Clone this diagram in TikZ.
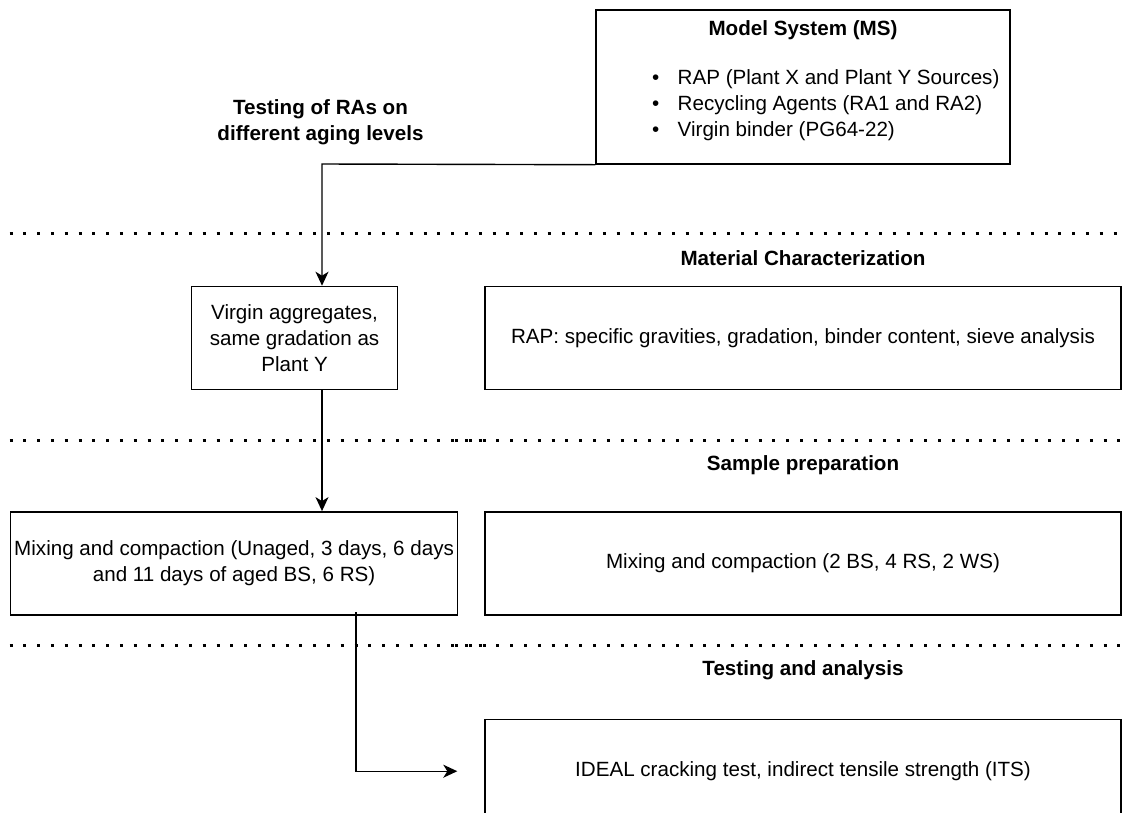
\documentclass[tikz,border=0pt]{standalone}
\usepackage{fontspec}
\setmainfont{Liberation Sans}
\usetikzlibrary{arrows.meta,positioning}

\begin{document}
\begin{tikzpicture}
[x=1pt,y=-1pt,
>={Stealth[length=14pt,width=13pt,inset=4pt]},
line width=1.4pt,
font=\fontsize{20.6}{26}\selectfont,
box/.style={draw, rectangle, minimum height=103pt, inner sep=0pt, align=center},
wide box/.style={box, minimum width=636pt},
title/.style={font=\fontsize{20.6}{26}\selectfont\bfseries, align=center},
sep line/.style={line width=3pt, dash pattern=on 3pt off 10.8pt}]

  \clip (0,0) rectangle (1126,812);

  % model system
  \node[box, minimum width=414pt, minimum height=154pt] (ms) at (803,87) {};
  \node[title] (mstitle) at (803,30) {Model System (MS)};
  \node[anchor=west, align=left, inner sep=0pt] (mslist) at (651.4,105)
    {\makebox[25.6pt][l]{\textbullet}RAP (Plant X and Plant Y Sources)\\
     \makebox[25.6pt][l]{\textbullet}Recycling Agents (RA1 and RA2)\\
     \makebox[25.6pt][l]{\textbullet}Virgin binder (PG64-22)};
  \node[title] (ratitle) at (320.5,122.5) {Testing of RAs on\\different aging levels};

  % separators
  \draw[sep line] (9.5,233) -- (1126,233);
  \draw[sep line] (9.5,440) -- (490,440);
  \draw[sep line] (455,440) -- (1126,440);
  \draw[sep line] (9.5,645) -- (490,645);
  \draw[sep line] (455,645) -- (1126,645);

  \node[title] (mattitle) at (803,258) {Material Characterization};
  \node[title] (preptitle) at (803,465) {Sample preparation};
  \node[title] (testtitle) at (803,670) {Testing and analysis};

  % boxes
  \node[wide box, below=121pt of ms] (rapbox)
    {RAP: specific gravities, gradation, binder content, sieve analysis};
  \node[box, minimum width=206pt, left=86pt of rapbox] (virgin)
    {Virgin aggregates,\\same gradation as\\Plant Y};
  \node[wide box, below=121pt of rapbox] (mixright)
    {Mixing and compaction (2 BS, 4 RS, 2 WS)};
  \node[box, minimum width=447pt, left=26pt of mixright] (mixleft)
    {Mixing and compaction (Unaged, 3 days, 6 days\\and 11 days of aged BS, 6 RS)};
  \node[wide box, minimum height=104pt, below=103pt of mixright] (ideal)
    {IDEAL cracking test, indirect tensile strength (ITS)};

  % connectors
  \coordinate (turn) at (322,164);
  \coordinate (drop) at (356,612);
  \coordinate[left=27pt of ideal.west] (feed);

  \draw[->] (ms.south west) -- (turn) -- (turn |- virgin.north);
  \draw[->] (turn |- virgin.south) -- (turn |- mixleft.north);
  \draw[->] (drop) |- (feed);

\end{tikzpicture}
\end{document}
